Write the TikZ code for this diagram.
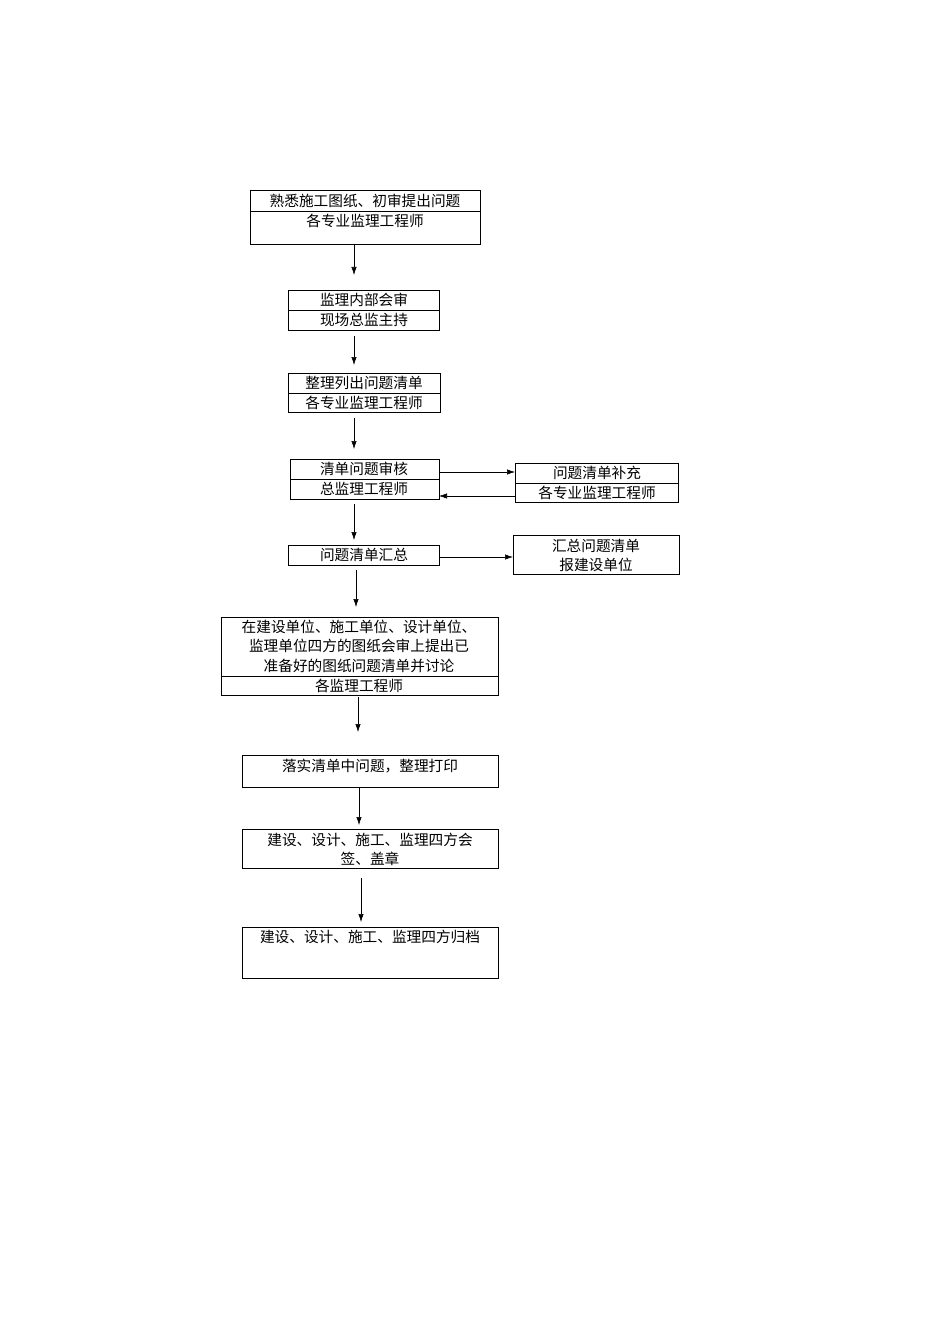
\documentclass[tikz,border=0pt]{standalone}
\usepackage{fontspec}
\setmainfont{Noto Sans CJK SC}
\usetikzlibrary{positioning,arrows.meta,calc}
\begin{document}
\begin{tikzpicture}[x=0.75pt,y=-0.75pt,
		box/.style={draw, thin, anchor=north west, inner sep=0pt},
		txt/.style={font=\fontsize{11}{13}\selectfont, align=center, inner sep=0pt},
		arr/.style={-{Latex[length=6pt,width=4pt]}, thin}
		]
		\useasboundingbox (0,0) rectangle (950,1344);
		
		% boxes
		\node[box, minimum width=172.5pt, minimum height=40.5pt] (b1) at (250,190) {};
		\node[box, minimum width=113.25pt, minimum height=30pt] (b2) at (288,290) {};
		\node[box, minimum width=114pt, minimum height=29.25pt] (b3) at (288,373) {};
		\node[box, minimum width=111.75pt, minimum height=30pt] (b4) at (290,459) {};
		\node[box, minimum width=122.25pt, minimum height=29.25pt] (r4) at (515,463) {};
		\node[box, minimum width=113.25pt, minimum height=15pt] (b5) at (288,545) {};
		\node[box, minimum width=124.5pt, minimum height=29.25pt] (r5) at (513,535) {};
		\node[box, minimum width=207.75pt, minimum height=58.5pt] (b6) at (221,617) {};
		\node[box, minimum width=192pt, minimum height=24pt] (b7) at (242,755) {};
		\node[box, minimum width=192pt, minimum height=29.25pt] (b8) at (242,829) {};
		\node[box, minimum width=192pt, minimum height=38.25pt] (b9) at (242,927) {};
		
		% dividers
		\draw (250,211) -- (480,211);
		\draw (288,310) -- (439,310);
		\draw (288,393) -- (440,393);
		\draw (290,479) -- (439,479);
		\draw (515,483) -- (678,483);
		\draw (221,676) -- (498,676);
		
		% texts
		\node[txt] (t1a) at (365,201) {熟悉施工图纸、初审提出问题};
		\node[txt] (t1b) at (365,221) {各专业监理工程师};
		\node[txt] (t2a) at (364,300) {监理内部会审};
		\node[txt] (t2b) at (364,320) {现场总监主持};
		\node[txt] (t3a) at (364,383) {整理列出问题清单};
		\node[txt] (t3b) at (364,403) {各专业监理工程师};
		\node[txt] (t4a) at (364,469) {清单问题审核};
		\node[txt] (t4b) at (364,489) {总监理工程师};
		\node[txt] (r4a) at (597,473) {问题清单补充};
		\node[txt] (r4b) at (597,493) {各专业监理工程师};
		\node[txt] (t5) at (364,555) {问题清单汇总};
		\node[txt] (r5a) at (596,546) {汇总问题清单};
		\node[txt] (r5b) at (596,565) {报建设单位};
		\node[txt] (t6a) at (359,627) {在建设单位、施工单位、设计单位、};
		\node[txt] (t6b) at (359,646) {监理单位四方的图纸会审上提出已};
		\node[txt] (t6c) at (359,666) {准备好的图纸问题清单并讨论};
		\node[txt] (t6d) at (359,686) {各监理工程师};
		\node[txt] (t7) at (370,766) {落实清单中问题，整理打印};
		\node[txt] (t8a) at (370,840) {建设、设计、施工、监理四方会};
		\node[txt] (t8b) at (370,859) {签、盖章};
		\node[txt] (t9) at (370,937) {建设、设计、施工、监理四方归档};
		
		% arrows
		\draw[arr] (354,244) -- (354,275);
		\draw[arr] (354,336) -- (354,365);
		\draw[arr] (354,418) -- (354,449);
		\draw[arr] (354,504) -- (354,540);
		\draw[arr] (356,570) -- (356,607);
		\draw[arr] (358,697) -- (358,732);
		\draw[arr] (359,788) -- (359,825);
		\draw[arr] (361,878) -- (361,922);
		\draw[arr] (439,472) -- (515,472);
		\draw[arr] (515,496) -- (439,496);
		\draw[arr] (439,557) -- (513,557);
		
	\end{tikzpicture}
\end{document}
